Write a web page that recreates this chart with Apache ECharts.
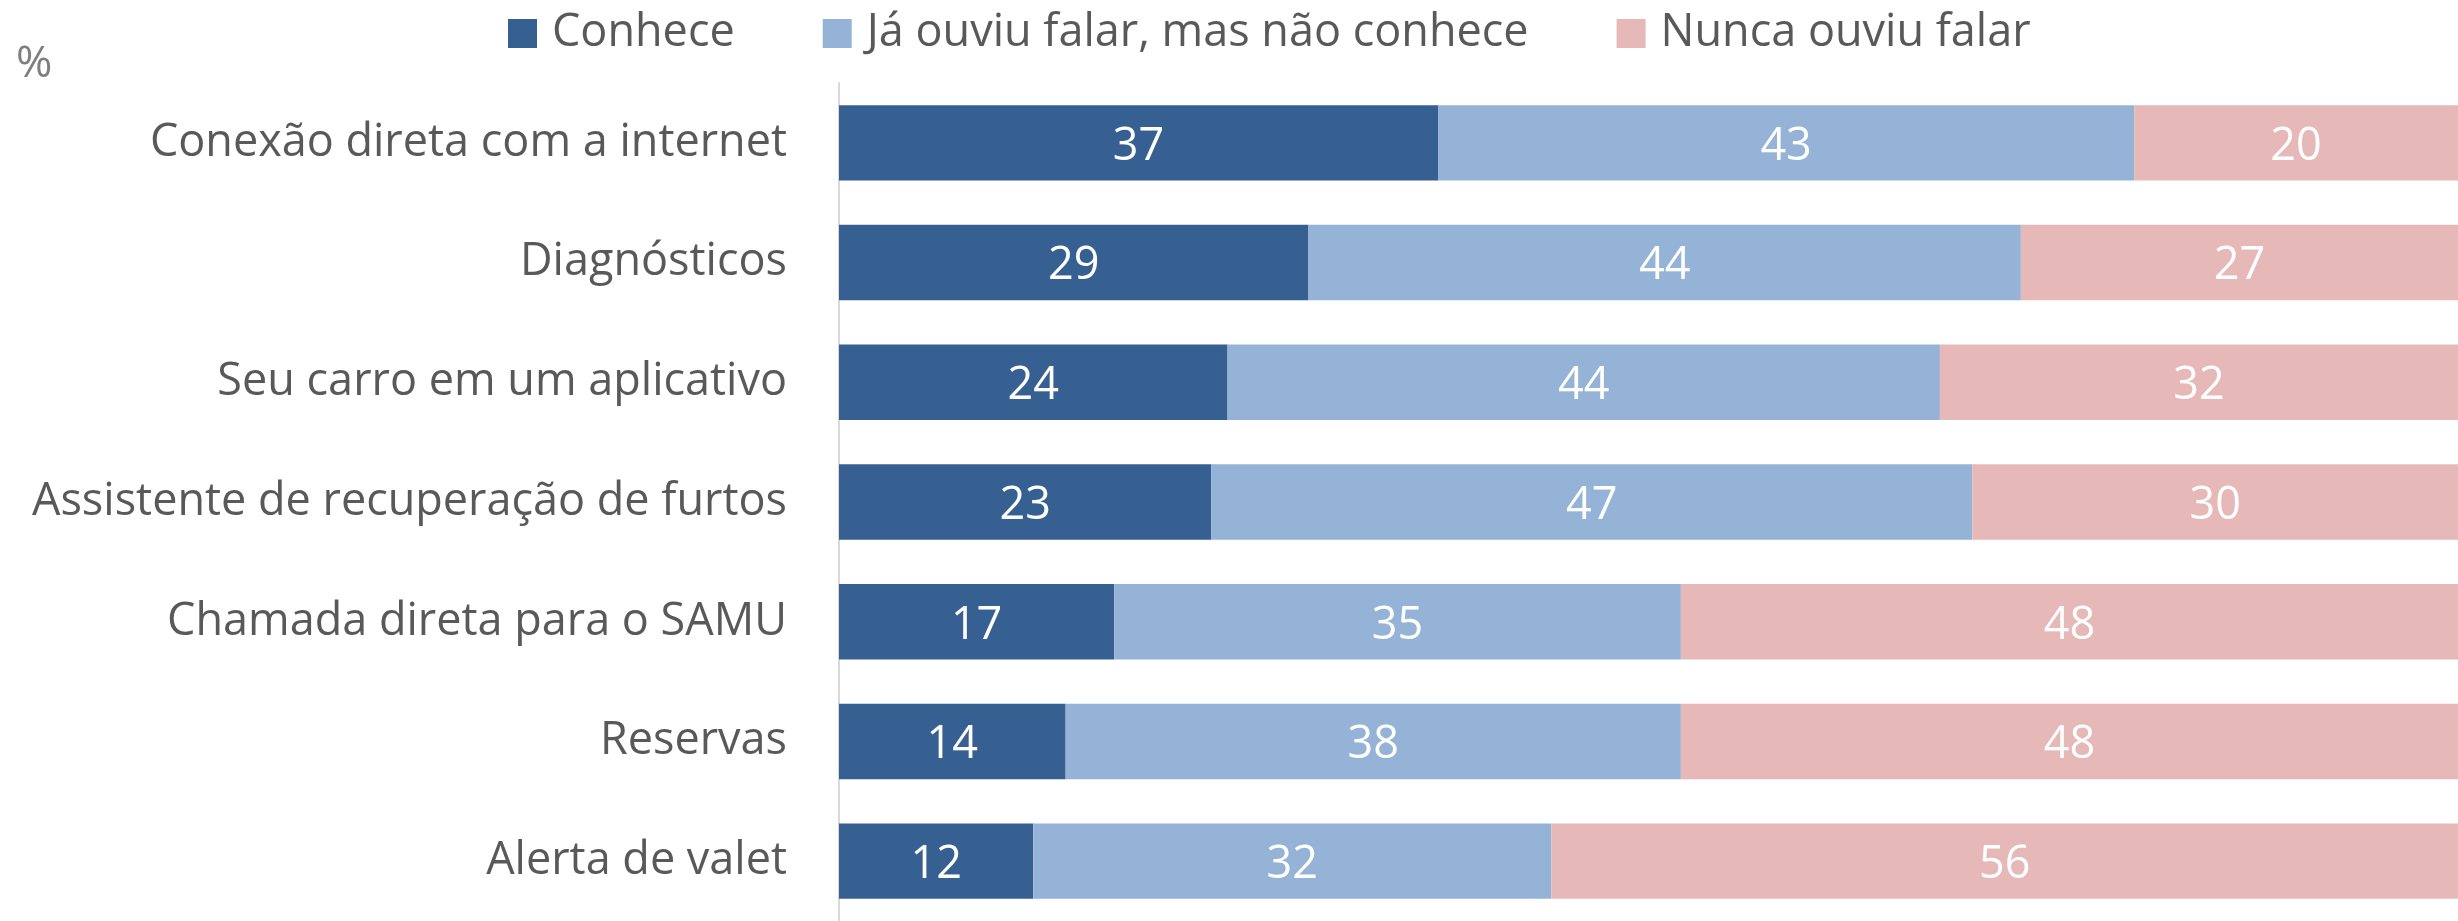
<!DOCTYPE html>
<html>
<head>
<meta charset="utf-8">
<script src="https://cdn.jsdelivr.net/npm/echarts@6/dist/echarts.min.js"></script>
<style>
  html, body { margin: 0; padding: 0; background: #ffffff; }
  #chart { width: 2458px; height: 921px; }
</style>
</head>
<body>
<div id="chart"></div>
<script>
// Awareness of connected-car services, % of respondents
const categories = [
  'Conexão direta com a internet',
  'Diagnósticos',
  'Seu carro em um aplicativo',
  'Assistente de recuperação de furtos',
  'Chamada direta para o SAMU',
  'Reservas',
  'Alerta de valet'
];
const seriesNames = ['Conhece', 'Já ouviu falar, mas não conhece', 'Nunca ouviu falar'];
const conhece = [37, 29, 24, 23, 17, 14, 12];
const jaOuviu = [43, 44, 44, 47, 35, 38, 32];
const nunca = [20, 27, 32, 30, 48, 48, 56];
const colors = ['#376092', '#95B3D7', '#E6B9B8'];

const FONT = '"Open Sans", "Noto Sans", sans-serif';
const chart = echarts.init(document.getElementById('chart'));

const values = [conhece, jaOuviu, nunca];
const series = seriesNames.map((name, i) => ({
  name: name,
  type: 'bar',
  stack: 'total',
  barWidth: '63%',
  data: values[i],
  itemStyle: { color: colors[i] },
  label: {
    show: true,
    position: 'inside',
    color: '#ffffff',
    fontFamily: FONT,
    fontSize: 45,
    offset: [0, 4]
  }
}));

chart.setOption({
  animation: false,
  title: {
    text: '%',
    left: 11,
    top: 37,
    textStyle: { color: '#7f7f7f', fontFamily: FONT, fontSize: 44, fontWeight: 'normal' }
  },
  legend: {
    data: seriesNames,
    left: 508,
    top: 11,
    padding: 0,
    itemWidth: 29,
    itemHeight: 29,
    itemGap: 88,
    icon: 'rect',
    textStyle: { color: '#595959', fontFamily: FONT, fontSize: 45, padding: [2, 0, 0, 10] }
  },
  grid: { left: 839, top: 83, width: 1633, height: 847, containLabel: false },
  xAxis: {
    type: 'value',
    min: 0,
    max: 100,
    show: false
  },
  yAxis: {
    type: 'category',
    data: categories,
    inverse: true,
    axisLine: { show: true, lineStyle: { color: '#d9d9d9', width: 2 } },
    axisTick: { show: false },
    axisLabel: { color: '#595959', fontFamily: FONT, fontSize: 45, margin: 52, padding: [7, 0, 0, 0] }
  },
  series: series
});
</script>
</body>
</html>
